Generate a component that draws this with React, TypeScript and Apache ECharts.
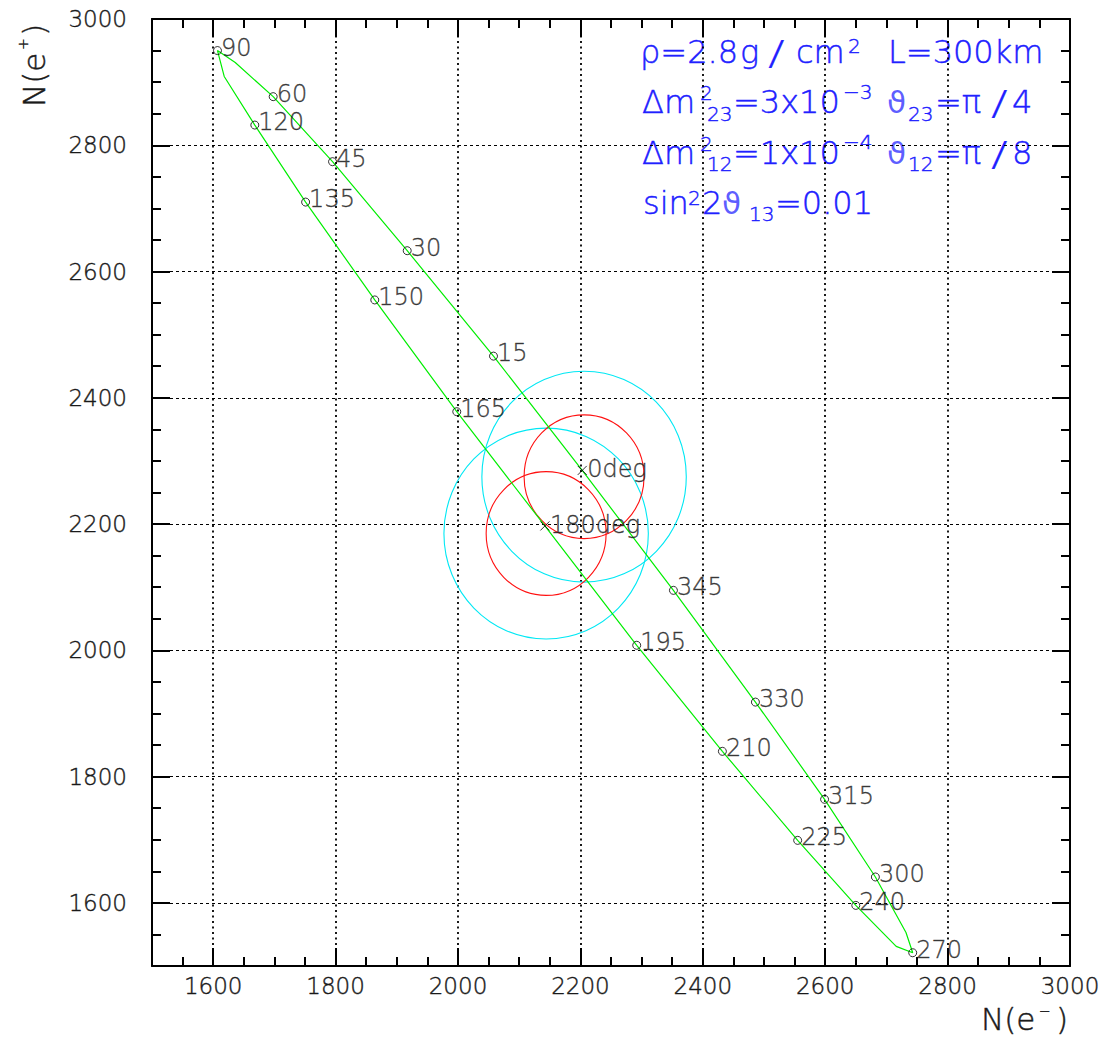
import React, { useEffect, useRef } from "react";
import * as echarts from "echarts";

// ---- data ----
const angleDeg = [0, 15, 30, 45, 60, 75, 90, 105, 120, 135, 150, 165, 180, 195, 210, 225, 240, 255, 270, 285, 300, 315, 330, 345];
const nElectron = [2203, 2058, 1917, 1795, 1698, 1636, 1607, 1618, 1668, 1751, 1864, 1998, 2142, 2292, 2432, 2555, 2650, 2716, 2743, 2732, 2682, 2599, 2486, 2352];
const nPositron = [2285, 2466, 2633, 2774, 2877, 2931, 2950, 2909, 2832, 2710, 2555, 2378, 2197, 2008, 1840, 1699, 1596, 1531, 1521, 1553, 1641, 1764, 1918, 2095];
const circleMarkerAngles = [15, 30, 45, 60, 90, 120, 135, 150, 165, 195, 210, 225, 240, 270, 300, 315, 330, 345];
const crossMarkerAngles = [0, 180];
const circleCentreElectron = [2206, 2144];
const circleCentrePositron = [2275, 2185];
const outerRadius = 167;
const innerRadius = 98;
const xTickValues = [1600, 1800, 2000, 2200, 2400, 2600, 2800, 3000];
const yTickValues = [1600, 1800, 2000, 2200, 2400, 2600, 2800, 3000];
const axisMin = 1500;
const axisMax = 3000;
const minorStep = 50;

const FONT = "'DejaVu Sans', sans-serif";
const BLUE = "#2020ff";
const INK = "#1a1a1a";

function txt(
  x: number,
  base: number,
  text: string,
  size: number,
  fill: string,
  extra: any = {},
  weight: any = 200,
  strokeW = 0.45
) {
  return {
    type: "text",
    x,
    y: base - 0.346 * size,
    ...extra,
    style: {
      text,
      fontSize: size,
      fontFamily: FONT,
      fontWeight: weight,
      fill,
      stroke: strokeW > 0 ? fill : undefined,
      lineWidth: strokeW,
      align: "left",
      textAlign: "left",
      verticalAlign: "middle",
      textVerticalAlign: "middle",
    },
  };
}

function buildOption() {
  const idx = (a: number) => angleDeg.indexOf(a);
  const contour = angleDeg.map((_, i) => [nElectron[i], nPositron[i]]);
  contour.push([nElectron[0], nPositron[0]]);
  const circleMarks = circleMarkerAngles.map((a) => [nElectron[idx(a)], nPositron[idx(a)], a]);
  const crossMarks = crossMarkerAngles.map((a) => [nElectron[idx(a)], nPositron[idx(a)], a]);
  const circles = circleCentreElectron.map((x, i) => [x, circleCentrePositron[i]]);

  const lineStyle = { color: "#000", width: 2 };
  const labelStyle = {
    fontSize: 23,
    color: INK,
    fontFamily: FONT,
    fontWeight: 200,
    textBorderColor: INK,
    textBorderWidth: 0.4,
    formatter: (v: number) => String(v),
  };
  const majorX = (position: string, main: boolean) => ({
    type: "value",
    position,
    min: axisMin,
    max: axisMax,
    axisLine: { show: true, onZero: false, lineStyle },
    axisTick: { show: true, inside: true, length: 18, customValues: xTickValues, lineStyle },
    axisLabel: main ? { show: true, customValues: xTickValues, margin: 8, ...labelStyle } : { show: false },
    splitLine: main ? { show: true, lineStyle: { color: "#000", width: 1.8, type: [2, 3.5] } } : { show: false },
  });
  const minorX = (position: string) => ({
    type: "value",
    position,
    min: axisMin,
    max: axisMax,
    interval: minorStep,
    axisLine: { show: false },
    axisTick: { show: true, inside: true, length: 9, lineStyle },
    axisLabel: { show: false },
    splitLine: { show: false },
  });
  const majorY = (position: string, main: boolean) => ({
    type: "value",
    position,
    min: axisMin,
    max: axisMax,
    axisLine: { show: true, onZero: false, lineStyle },
    axisTick: { show: true, inside: true, length: 18, customValues: yTickValues, lineStyle },
    axisLabel: main ? { show: true, customValues: yTickValues, margin: 25, ...labelStyle } : { show: false },
    splitLine: main ? { show: true, lineStyle: { color: "#000", width: 1, type: [3, 3] } } : { show: false },
  });
  const minorY = (position: string) => ({
    type: "value",
    position,
    min: axisMin,
    max: axisMax,
    interval: minorStep,
    axisLine: { show: false },
    axisTick: { show: true, inside: true, length: 9, lineStyle },
    axisLabel: { show: false },
    splitLine: { show: false },
  });

  const ellipse = (color: string, radius: number) => ({
    type: "custom",
    xAxisIndex: 0,
    yAxisIndex: 0,
    data: circles,
    encode: { x: 0, y: 1 },
    z: 1,
    renderItem: (params: any, api: any) => {
      const c = api.coord([api.value(0), api.value(1)]);
      const s = api.size([radius, radius]);
      return {
        type: "ellipse",
        shape: { cx: c[0], cy: c[1], rx: s[0], ry: s[1] },
        style: { fill: "none", stroke: color, lineWidth: 1.1 },
      };
    },
  });

  const slash = { scaleX: 1.45 };
  const theta = (x: number, base: number) => ({
    ...txt(x, base, "ϑ", 31, BLUE, {}, "normal", 0),
    style: { ...txt(x, base, "ϑ", 31, BLUE, {}, "normal", 0).style, opacity: 0.72 },
  });
  const graphic: any[] = [
    // annotation block
    txt(640, 63, "ρ=2.8", 32, BLUE),
    txt(740, 63, "g", 32, BLUE),
    txt(768, 65, "/", 34, BLUE, slash, 200, 0.2),
    txt(796, 63, "cm", 32, BLUE),
    txt(848, 53, "2", 20, BLUE),
    txt(888, 63, "L=300km", 32, BLUE),

    txt(642, 112.7, "Δm", 32, BLUE),
    txt(700, 99.5, "2", 20, BLUE),
    txt(707, 120.5, "23", 20, BLUE),
    txt(733, 112.7, "=3x10", 32, BLUE),
    txt(843, 98.5, "−3", 20, BLUE),
    theta(887, 112.7),
    txt(908, 120.5, "23", 20, BLUE),
    txt(935, 112.7, "=π", 32, BLUE),
    txt(991, 114.7, "/", 34, BLUE, slash, 200, 0.2),
    txt(1012, 112.7, "4", 32, BLUE),

    txt(642, 164, "Δm", 32, BLUE),
    txt(700, 150.5, "2", 20, BLUE),
    txt(707, 171, "12", 20, BLUE),
    txt(733, 164, "=1x10", 32, BLUE),
    txt(843, 148.5, "−4", 20, BLUE),
    theta(887, 164),
    txt(908, 171, "12", 20, BLUE),
    txt(935, 164, "=π", 32, BLUE),
    txt(991, 166, "/", 34, BLUE, slash, 200, 0.2),
    txt(1012, 164, "8", 32, BLUE),

    txt(643, 214, "sin", 32, BLUE),
    txt(688, 205, "2", 20, BLUE),
    txt(702, 214, "2", 32, BLUE),
    theta(722, 214),
    txt(749, 220.5, "13", 20, BLUE),
    txt(775, 214, "=0.01", 32, BLUE),

    // x axis title
    txt(981, 1030, "N(e", 31, INK),
    txt(1039, 1016, "−", 14, INK),
    txt(1056, 1030, ")", 31, INK),

    // y axis title (rotated)
    {
      type: "group",
      x: 45,
      y: 107,
      rotation: Math.PI / 2,
      children: [txt(0, 0, "N(e", 31, INK), txt(57, -17.5, "+", 14, INK), txt(71, 0, ")", 31, INK)],
    },
  ];

  const pointLabel = {
    show: true,
    position: "right",
    distance: 0,
    fontSize: 24,
    color: INK,
    fontFamily: FONT,
    fontWeight: 200,
    textBorderColor: INK,
    textBorderWidth: 0.4,
  };

  return {
    animation: false,
    backgroundColor: "#fff",
    grid: { left: 152, right: 36, top: 19, bottom: 73, containLabel: false },
    xAxis: [majorX("bottom", true), minorX("bottom"), majorX("top", false), minorX("top")],
    yAxis: [majorY("left", true), minorY("left"), majorY("right", false), minorY("right")],
    graphic,
    series: [
      ellipse("#00e8f4", outerRadius),
      ellipse("#ff1010", innerRadius),
      {
        type: "line",
        xAxisIndex: 0,
        yAxisIndex: 0,
        data: contour,
        showSymbol: false,
        symbol: "none",
        lineStyle: { color: "#00ee00", width: 1.2 },
        z: 2,
      },
      {
        type: "scatter",
        xAxisIndex: 0,
        yAxisIndex: 0,
        data: circleMarks,
        symbol: "circle",
        symbolSize: 8,
        itemStyle: { color: "rgba(0,0,0,0)", borderColor: "#000", borderWidth: 1 },
        label: { ...pointLabel, offset: [-1, -3], formatter: (p: any) => String(p.value[2]) },
        z: 3,
      },
      {
        type: "scatter",
        xAxisIndex: 0,
        yAxisIndex: 0,
        data: crossMarks,
        symbol: "path://M0 0L10 10M10 0L0 10",
        symbolSize: 9,
        itemStyle: { color: "none", borderColor: "#000", borderWidth: 1 },
        label: { ...pointLabel, offset: [-2, -1], formatter: (p: any) => `${p.value[2]}deg` },
        z: 3,
      },
    ],
  };
}

export default function App() {
  const ref = useRef<HTMLDivElement>(null);
  useEffect(() => {
    if (!ref.current) return;
    const chart = echarts.init(ref.current, undefined, { renderer: "svg" });
    chart.setOption(buildOption() as any);
    return () => chart.dispose();
  }, []);
  return (
    <div
      ref={ref}
      style={{ position: "absolute", left: 0, top: 0, width: 1106, height: 1039, background: "#fff" }}
    />
  );
}
